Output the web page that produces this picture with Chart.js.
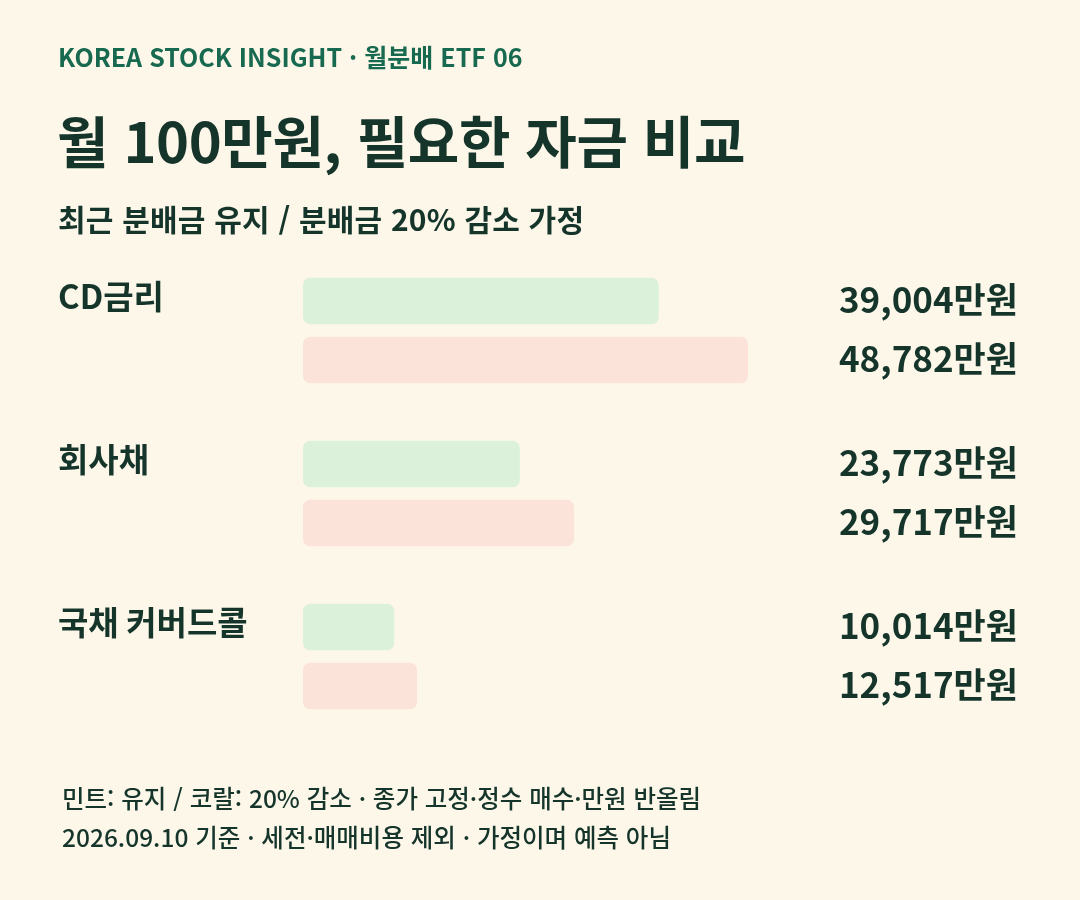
<!DOCTYPE html>
<html lang="ko">
<head>
<meta charset="utf-8">
<script src="https://cdn.jsdelivr.net/npm/chart.js@4.4.1/dist/chart.umd.min.js"></script>
<style>
    html, body { margin: 0; padding: 0; }
    body {
        width: 1080px; height: 900px; position: relative; overflow: hidden;
        background: #fdf7ea;
        font-family: "Noto Sans CJK KR", "Noto Sans", sans-serif;
        color: #15352b;
    }
    #chartWrap { position: absolute; left: 0; top: 0; width: 1080px; height: 900px; }
    .txt { position: absolute; white-space: nowrap; line-height: 1; }
    .kicker { left: 58px; top: 44px; font-size: 25px; font-weight: 700; color: #17694f; }
    .title { left: 57px; top: 111px; font-size: 56px; font-weight: 700; letter-spacing: -0.4px; }
    .subtitle { left: 58px; top: 203px; font-size: 30px; font-weight: 700; letter-spacing: 0.2px; }
    .foot { left: 62px; font-size: 24.5px; font-weight: 500; }
</style>
</head>
<body>
<div id="chartWrap"><canvas id="fundChart"></canvas></div>
<div class="txt kicker">KOREA STOCK INSIGHT · 월분배 ETF 06</div>
<div class="txt title">월 100만원, 필요한 자금 비교</div>
<div class="txt subtitle">최근 분배금 유지 / 분배금 20% 감소 가정</div>
<div class="txt foot" style="top:786px">민트: 유지 / 코랄: 20% 감소 · 종가 고정·정수 매수·만원 반올림</div>
<div class="txt foot" style="top:825px">2026.09.10 기준 · 세전·매매비용 제외 · 가정이며 예측 아님</div>

<script>
// 필요한 자금 (만원)
const categories = ['CD금리', '회사채', '국채 커버드콜'];
const keepValues = [39004, 23773, 10014];   // 분배금 유지
const cutValues = [48782, 29717, 12517];    // 분배금 20% 감소
const seriesNames = ['유지', '20% 감소'];

const mint = '#dcf1d9';
const coral = '#fbe3d9';
const ink = '#15352b';
const fontFamily = '"Noto Sans CJK KR", "Noto Sans", sans-serif';

function fmtWon(v) {
    return v.toLocaleString('en-US') + '만원';
}

const labelPlugin = {
    id: 'rowLabels',
    afterDatasetsDraw(chart) {
        const ctx = chart.ctx;
        ctx.save();
        ctx.fillStyle = ink;
        ctx.textBaseline = 'middle';

        const firstBars = chart.getDatasetMeta(0).data;
        ctx.font = `700 33px ${fontFamily}`;
        ctx.textAlign = 'left';
        firstBars.forEach((bar, i) => {
            ctx.fillText(categories[i], 58, bar.y - 5);
        });

        ctx.font = `700 35px ${fontFamily}`;
        ctx.textAlign = 'right';
        chart.data.datasets.forEach((ds, di) => {
            chart.getDatasetMeta(di).data.forEach((bar, i) => {
                ctx.fillText(fmtWon(ds.data[i]), 1018, bar.y - 1);
            });
        });
        ctx.restore();
    }
};

const ctx = document.getElementById('fundChart');

new Chart(ctx, {
    type: 'bar',
    data: {
        labels: categories,
        datasets: [
            {
                label: seriesNames[0],
                data: keepValues,
                backgroundColor: mint,
            },
            {
                label: seriesNames[1],
                data: cutValues,
                backgroundColor: coral,
            }
        ]
    },
    options: {
        indexAxis: 'y',
        responsive: true,
        maintainAspectRatio: false,
        animation: false,
        layout: { padding: { left: 303, right: 332, top: 249, bottom: 162 } },
        datasets: {
            bar: {
                barThickness: 59,
                borderWidth: { top: 6.5, bottom: 6.5, left: 0, right: 0 },
                borderColor: 'rgba(0,0,0,0)',
                borderSkipped: false,
                borderRadius: 14.5,
            }
        },
        scales: {
            x: {
                display: false,
                min: 0,
                max: Math.max(...keepValues, ...cutValues),
            },
            y: { display: false }
        },
        plugins: {
            legend: { display: false },
            tooltip: { enabled: false }
        }
    },
    plugins: [labelPlugin]
});
</script>
</body>
</html>
